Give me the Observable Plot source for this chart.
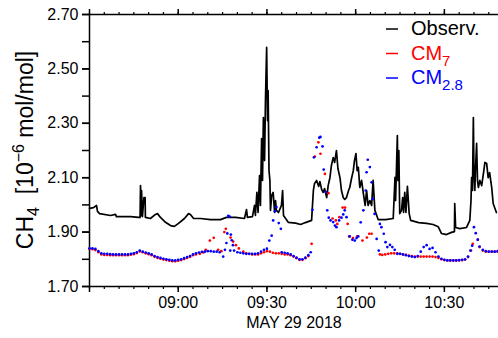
<!DOCTYPE html>
<html><head><meta charset="utf-8">
<script src="https://cdn.jsdelivr.net/npm/d3@7"></script>
<script src="https://cdn.jsdelivr.net/npm/@observablehq/plot@0.6"></script>
<style>body{margin:0;background:#fff}</style>
</head><body><div id="chart"></div>
<script>
// minutes after 08:30 UTC on 29 May 2018, and CH4 in 10^-6 mol/mol
const obsT = [0,1.35,2.37,2.7,3.4,7.1,8.8,9.1,13.9,16.6,17.1,17.25,17.4,17.6,17.9,18.4,18.8,18.9,20.6,22.3,23.0,24.0,25.7,27.4,28.7,30.1,32.1,33.5,34.2,35.2,37.5,40.9,44.3,46.3,49.4,52.4,53.1,53.4,55.1,55.8,56.1,56.6,57.0,57.5,57.8,58.2,58.5,58.8,59.2,59.5,59.9,60.2,60.4,60.7,61.0,61.2,61.6,62.1,62.6,62.9,63.2,63.9,64.9,65.3,65.6,67.2,69.7,71.4,73.0,75.1,75.7,76.1,76.8,77.5,77.9,78.5,79.0,79.5,80.2,80.7,81.3,81.8,82.4,82.9,83.5,84.0,84.7,85.2,85.8,86.3,86.9,87.6,88.0,88.6,89.2,89.6,90.1,90.5,90.9,91.4,92.0,92.6,93.2,93.7,94.2,94.8,95.4,95.9,96.5,97.6,100.1,102.7,103.3,103.5,104.1,104.3,104.6,104.9,105.5,105.9,106.2,106.6,107.0,107.5,108.1,108.6,111.3,114.0,116.2,117.9,119.0,120.7,122.4,123.4,123.5,123.8,125.2,127.5,128.6,129.0,129.2,129.5,129.8,130.0,130.3,130.5,130.9,131.2,131.5,132.0,132.6,133.2,133.7,134.3,134.8,135.3,136.0,136.5,137.1,137.6];
const obsV = [1.987,1.990,1.998,1.976,1.968,1.961,1.965,1.957,1.957,1.954,1.954,2.071,1.960,2.053,1.957,2.027,2.027,1.954,1.950,1.965,1.968,1.954,1.936,1.924,1.921,1.932,1.950,1.968,1.964,1.950,1.950,1.946,1.946,1.954,1.954,1.950,1.983,1.954,1.957,1.998,1.961,2.046,1.972,2.108,1.998,2.244,2.090,2.321,2.163,2.384,2.579,2.310,2.420,2.126,2.090,1.980,2.035,2.046,1.972,2.016,1.980,1.972,1.998,2.053,1.961,1.936,1.933,1.928,1.935,1.943,2.053,2.079,2.090,2.068,2.086,2.057,2.046,2.060,2.027,2.071,2.100,2.145,2.174,2.156,2.200,2.134,2.100,2.053,2.027,2.020,2.027,2.053,2.064,2.097,2.126,2.163,2.189,2.126,2.138,2.064,2.090,2.042,1.998,2.053,1.998,2.016,1.998,2.090,1.980,1.946,1.946,1.950,2.101,2.016,2.255,2.090,2.200,1.968,1.980,2.027,1.972,2.046,1.972,2.068,1.968,1.943,1.935,1.932,1.928,1.920,1.895,1.891,1.899,1.902,2.005,1.917,1.913,1.917,1.943,2.016,2.100,2.053,2.321,2.126,2.053,2.126,2.226,2.090,2.064,2.090,2.071,2.115,2.156,2.152,2.100,2.119,2.064,2.005,1.987,1.972];

const cm7T = [0,1,2,3,4,5,6,7,8,9,10,11,12,13,14,15,16,17,18,19,20,21,22,23,24,25,26,27,28,29,30,31,32,33,34,35,36,37.3,38.5,39.3,40.7,42.0,43.5,44.6,45.6,46.1,47.7,48.6,49.5,50.5,52,53,54,55,56,57,58,59,60,61,62,63,64,65,66,67,68,69,70,71,72,73,74,75.1,76.2,77.4,78.1,79.6,80.8,82.2,83.3,83.8,84.5,85.6,86.4,87.3,87.8,89.1,90.5,92.3,93.8,94.6,95.4,98.2,99,100,101,102,103,104,105,106,107,108,109,110,111,112,113,114,115,116,117,118,119,120,121,122,123,124,125,126,127,128,129,129.6,131.3,131.9,133,134,135,136,137,138];
const cm7V = [1.838,1.837,1.834,1.826,1.818,1.816,1.816,1.815,1.815,1.815,1.815,1.815,1.815,1.815,1.817,1.819,1.823,1.829,1.826,1.822,1.819,1.815,1.809,1.805,1.802,1.799,1.797,1.795,1.793,1.793,1.795,1.797,1.801,1.805,1.809,1.815,1.818,1.820,1.825,1.835,1.869,1.879,1.835,1.830,1.900,1.912,1.880,1.865,1.852,1.840,1.828,1.822,1.820,1.818,1.818,1.818,1.822,1.826,1.830,1.828,1.824,1.822,1.822,1.820,1.818,1.818,1.815,1.810,1.804,1.798,1.798,1.804,1.812,1.857,2.178,2.230,2.188,2.114,2.043,1.950,1.943,1.930,1.955,1.990,1.990,1.930,1.884,1.878,1.884,1.869,1.880,1.894,1.894,1.818,1.816,1.818,1.820,1.822,1.822,1.822,1.820,1.818,1.816,1.814,1.812,1.810,1.810,1.810,1.810,1.810,1.810,1.810,1.808,1.805,1.800,1.797,1.796,1.796,1.796,1.796,1.796,1.797,1.799,1.808,1.832,1.857,1.872,1.845,1.832,1.828,1.828,1.828,1.828,1.828];

const cm28T = [0,1,2,3,4,5,6,7,8,9,10,11,12,13,14,15,16,17,18,19,20,21,22,23,24,25,26,27,28,29,30,31,32,33,34,35,36,37,38,39,40,41,42,43,44,45.2,45.8,46.3,46.6,46.9,47.4,47.6,47.8,48.1,48.5,48.9,50,51,52,53,54,55,56,57,58,59,60,60.8,61.6,62.1,62.7,63.2,64.0,64.7,65,66,67,68,69,70,71,72,73,74,74.8,75.4,75.9,76.8,77.7,78.1,78.8,79.2,79.9,80.4,80.9,81.5,82.4,83.0,83.5,84.4,85.2,85.8,86.3,86.9,88.0,88.9,89.7,90.3,90.9,91.7,92.6,93.4,93.7,94.1,94.8,95.4,95.7,96.4,97.1,97.8,98.2,98.7,99.5,100.1,100.7,101.6,102.4,103.2,104.1,105,106,107,108,109,110,111,112,113,114,115,116,117,118,119,120,121,122,123,124,125,126,127,128,128.8,129.4,130.0,130.6,131.3,131.9,133,134,135,136,137,138];
const cm28V = [1.840,1.840,1.838,1.830,1.822,1.820,1.820,1.819,1.818,1.818,1.818,1.818,1.818,1.818,1.820,1.822,1.826,1.832,1.828,1.825,1.822,1.818,1.812,1.808,1.805,1.802,1.800,1.798,1.796,1.796,1.798,1.800,1.804,1.808,1.812,1.818,1.822,1.825,1.827,1.828,1.830,1.830,1.828,1.828,1.826,1.810,1.835,1.860,1.895,1.960,1.957,1.832,1.891,1.870,1.852,1.832,1.826,1.824,1.822,1.820,1.820,1.820,1.820,1.822,1.828,1.835,1.839,1.869,1.887,1.943,1.977,1.992,1.933,1.912,1.826,1.824,1.822,1.818,1.812,1.806,1.800,1.800,1.806,1.815,1.826,1.982,2.175,2.212,2.247,2.250,2.215,2.130,2.047,1.980,1.953,1.943,1.937,1.924,1.918,1.943,1.953,1.965,1.980,1.955,1.884,1.872,1.869,1.878,1.884,1.936,1.980,2.053,2.120,2.166,2.139,2.083,2.022,1.967,1.875,1.832,1.930,1.918,1.894,1.863,1.845,1.853,1.845,1.835,1.820,1.820,1.818,1.815,1.812,1.810,1.808,1.812,1.828,1.845,1.852,1.838,1.842,1.826,1.810,1.802,1.798,1.796,1.796,1.796,1.796,1.797,1.798,1.800,1.810,1.832,1.850,1.918,1.896,1.872,1.847,1.835,1.830,1.828,1.828,1.828,1.830];

const yTickLabels = ["1.70","1.90","2.10","2.30","2.50","2.70"];
const yMinorTicks = [1.70,1.80,1.90,2.00,2.10,2.20,2.30,2.40,2.50,2.60,2.70];
const xTickLabels = ["09:00","09:30","10:00","10:30"];
const xStart = "08:30";
const dateLabel = "MAY 29 2018";
const legendNames = ["Observ.","CM","CM"];
const legendSubs = ["","7","2.8"];
const seriesColors = ["black","red","blue"];

const T0 = Date.UTC(2018,4,29,8,30);
const toDate = m => new Date(T0 + m*60000);
const parseHM = s => { const [h,m] = s.split(":").map(Number); return new Date(Date.UTC(2018,4,29,h,m)); };
const xEnd = toDate(138.3);
const obs = obsT.map((t,i)=>({time:toDate(t), v:obsV[i]}));
const cm7 = cm7T.map((t,i)=>({time:toDate(t), v:cm7V[i]}));
const cm28 = cm28T.map((t,i)=>({time:toDate(t), v:cm28V[i]}));
const majorTicks = [parseHM(xStart), ...xTickLabels.map(parseHM)];
const minorTicks = d3.utcMinute.every(5).range(parseHM(xStart), xEnd);
const hm = d3.utcFormat("%H:%M");
const xFmt = d => xTickLabels.includes(hm(d)) ? hm(d) : "";
const yVals = yTickLabels.map(Number);
const none = () => "";

const plot = Plot.plot({
  width: 498, height: 338,
  marginLeft: 89, marginRight: 0, marginTop: 14, marginBottom: 52,
  x: {type: "utc", domain: [parseHM(xStart), xEnd]},
  y: {domain: [1.70, 2.70]},
  style: {fontFamily: "'Liberation Sans', Arial, sans-serif", fontSize: "16px", color: "black", background: "white"},
  marks: [
    Plot.axisY(yMinorTicks, {tickSize: 7, tickFormat: none, label: null, strokeWidth: 1.5}),
    Plot.axisY(yVals, {tickSize: 7, tickPadding: 4, tickFormat: d => d.toFixed(2), label: null, strokeWidth: 1.5}),
    Plot.axisX(minorTicks, {anchor: "bottom", tickSize: 3, tickFormat: none, label: null, strokeWidth: 1.2}),
    Plot.axisX(majorTicks, {anchor: "bottom", tickSize: 6, tickPadding: 4, tickFormat: xFmt, label: null, strokeWidth: 1.5}),
    Plot.axisX(minorTicks, {anchor: "top", tickSize: 3, tickFormat: none, label: null, strokeWidth: 1.2}),
    Plot.axisX(majorTicks, {anchor: "top", tickSize: 6, tickFormat: none, label: null, strokeWidth: 1.5}),
    Plot.ruleX([parseHM(xStart)], {strokeWidth: 1.5}),
    Plot.ruleY([1.70, 2.70], {strokeWidth: 1.5}),
    Plot.line(obs, {x: "time", y: "v", stroke: seriesColors[0], strokeWidth: 1.7}),
    Plot.dot(cm7, {x: "time", y: "v", fill: seriesColors[1], r: 1.35}),
    Plot.dot(cm28, {x: "time", y: "v", fill: seriesColors[2], r: 1.35}),
    Plot.text([dateLabel], {frameAnchor: "bottom", dy: 41, fontSize: 16})
  ]
});

const svg = d3.select(plot);
// y-axis label with subscript and superscript
const yl = svg.append("text").attr("transform", "translate(33,150) rotate(-90)")
  .attr("text-anchor", "middle").attr("font-size", 23).attr("fill", "black");
yl.append("tspan").text("CH");
yl.append("tspan").attr("dy", 6).attr("font-size", 16).text("4");
yl.append("tspan").attr("dy", -6).text("  [10");
yl.append("tspan").attr("dy", -9).attr("font-size", 16).text("\u22126");
yl.append("tspan").attr("dy", 9).text(" mol/mol]");

// legend
const rowY = [35, 59.5, 84];
legendNames.forEach((name, i) => {
  svg.append("line").attr("x1", 386).attr("x2", 398).attr("y1", rowY[i]-6).attr("y2", rowY[i]-6)
    .attr("stroke", seriesColors[i]).attr("stroke-width", 1.5);
  const t = svg.append("text").attr("x", 411).attr("y", rowY[i]).attr("text-anchor", "start")
    .attr("font-size", 20).attr("fill", seriesColors[i]);
  t.append("tspan").text(name);
  if (legendSubs[i]) t.append("tspan").attr("dy", 6).attr("font-size", 15).text(legendSubs[i]);
});

document.getElementById("chart").appendChild(plot);
</script>
</body></html>
